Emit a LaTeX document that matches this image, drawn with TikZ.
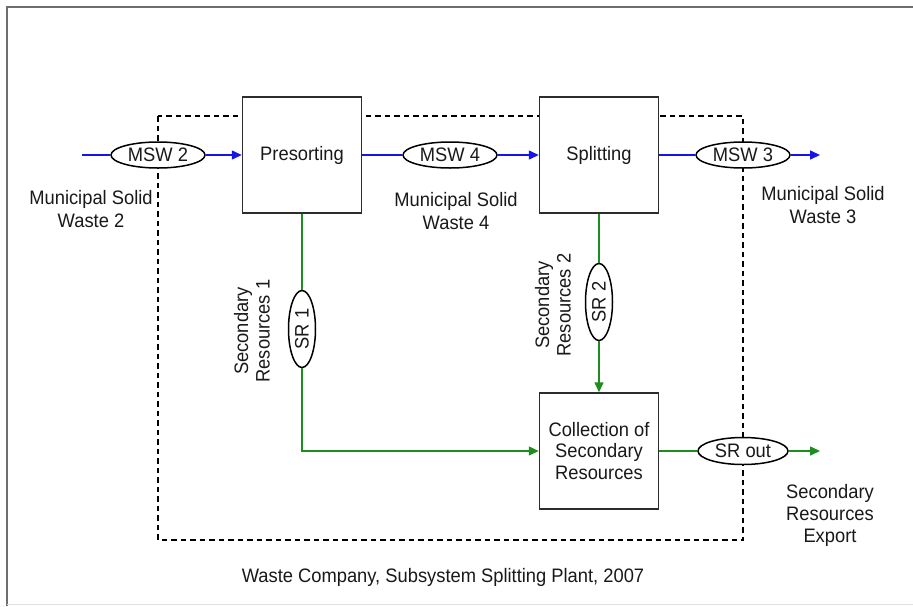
\documentclass[tikz,border=0pt]{standalone}
\usepackage{fontspec}
\setmainfont{Liberation Sans}[FakeStretch=0.94]
\usetikzlibrary{arrows.meta,shapes.geometric}
\definecolor{flowblue}{RGB}{20,20,235}
\definecolor{flowgreen}{RGB}{30,140,30}
\definecolor{edgegray}{RGB}{45,45,45}
\definecolor{inktext}{RGB}{25,25,25}
\definecolor{framegray}{RGB}{110,110,110}

\begin{document}
\begin{tikzpicture}[x=1pt,y=-1pt,
  every node/.style={font=\fontsize{19.5}{22.5}\selectfont, text=inktext},
  process/.style={draw=edgegray, line width=1.5pt, fill=white,
    minimum width=119pt, minimum height=116pt, inner sep=0pt, align=center},
  flowtag/.style={ellipse, draw=black, line width=1.5pt, fill=white,
    inner sep=0pt, minimum width=94pt, minimum height=26pt},
  vtag/.style={flowtag, minimum width=77pt, minimum height=27pt, rotate=90},
  label/.style={align=center, inner sep=0pt},
  blueflow/.style={draw=flowblue, line width=1.5pt},
  greenflow/.style={draw=flowgreen, line width=1.5pt},
  tip/.style={-{Triangle[length=10pt,width=9pt]}},
  boundary/.style={draw=black, line width=1.5pt, dash pattern=on 5.5pt off 4pt}
]
\useasboundingbox (0,0) rectangle (913,606);
\fill[white] (0,0) rectangle (913,606);

% outer frame
\draw[framegray, line width=1.3pt] (7,606) -- (7,7) -- (913,7);
\draw[black!12, line width=1pt] (7,604.5) -- (913,604.5);

% system boundary of the splitting plant
\draw[boundary] (158,116) rectangle (743,540);

% processes
\node[process] (pre)   at (302,155) {Presorting};
\node[process] (split) at (599,155) {Splitting};
\node[process, font=\fontsize{19.5}{21.5}\selectfont] (coll) at (599,451) {Collection of\\Secondary\\Resources};

% flow tags
\node[flowtag] (msw2)  at (158,155) {MSW 2};
\node[flowtag] (msw4)  at (450,155) {MSW 4};
\node[flowtag] (msw3)  at (743,155) {MSW 3};
\node[flowtag, minimum width=90pt, minimum height=27pt] (srout) at (743,451) {SR out};
\node[vtag] (sr1) at (302,329) {SR 1};
\node[vtag] (sr2) at (599,302) {SR 2};

% free ends
\coordinate (mswin)  at (82,155);
\coordinate (mswend) at (820,155);
\coordinate (srend)  at (820,451);

% municipal solid waste flows
\draw[blueflow] (mswin) -- (msw2);
\draw[blueflow, tip] (msw2) -- (pre);
\draw[blueflow] (pre) -- (msw4);
\draw[blueflow, tip] (msw4) -- (split);
\draw[blueflow] (split) -- (msw3);
\draw[blueflow, tip] (msw3) -- (mswend);

% secondary resource flows
\draw[greenflow] (pre) -- (sr1);
\draw[greenflow, tip] (sr1) |- (coll);
\draw[greenflow] (split) -- (sr2);
\draw[greenflow, tip] (sr2) -- (coll);
\draw[greenflow] (coll) -- (srout);
\draw[greenflow, tip] (srout) -- (srend);

% flow names
\node[label] (lmsw2) at (91,209) {Municipal Solid\\Waste 2};
\node[label] (lmsw4) at (456,211) {Municipal Solid\\Waste 4};
\node[label] (lmsw3) at (823,205) {Municipal Solid\\Waste 3};
\node[label, font=\fontsize{19.5}{22}\selectfont] (lexp) at (830,515) {Secondary\\Resources\\Export};
\node[label, rotate=90, font=\fontsize{19.5}{21.5}\selectfont] (lsr1) at (252,331) {Secondary\\Resources 1};
\node[label, rotate=90, font=\fontsize{19.5}{21.5}\selectfont] (lsr2) at (553,305) {Secondary\\Resources 2};

% caption
\node[label] (caption) at (443,577) {Waste Company, Subsystem Splitting Plant, 2007};
\end{tikzpicture}
\end{document}
